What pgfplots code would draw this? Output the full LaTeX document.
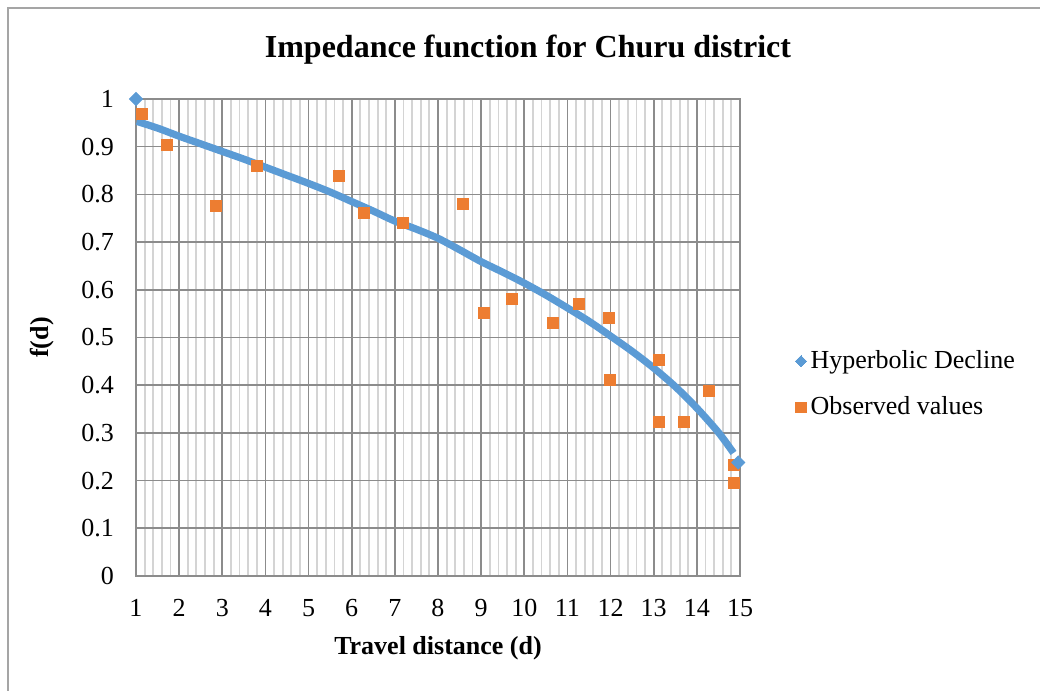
\documentclass[border=0pt]{standalone}
\usepackage{fontspec}
\setmainfont{Liberation Serif}
\usepackage{pgfplots}
\pgfplotsset{compat=1.18}
\definecolor{hblue}{RGB}{91,155,213}
\definecolor{horange}{RGB}{237,125,49}
\definecolor{majgrid}{RGB}{140,140,140}
\definecolor{mingrid}{RGB}{212,212,212}
\definecolor{framegray}{RGB}{165,165,165}
\begin{document}
\begin{tikzpicture}
\draw[framegray, line width=0.7pt] (4pt,-6pt) rectangle (526pt,341.5pt);
\node[font=\fontsize{16}{19}\selectfont\bfseries] at (264pt,320.5pt) {Impedance function for Churu district};
\begin{axis}[
  at={(68pt,57.5pt)}, anchor=south west, scale only axis,
  width=302pt, height=238.5pt,
  xmin=1, xmax=15, ymin=0, ymax=1,
  xtick={1,2,3,4,5,6,7,8,9,10,11,12,13,14,15},
  ytick={0,0.1,0.2,0.3,0.4,0.5,0.6,0.7,0.8,0.9,1},
  minor xtick={1.2,1.4,1.6,1.8,2.2,2.4,2.6,2.8,3.2,3.4,3.6,3.8,4.2,4.4,4.6,4.8,
    5.2,5.4,5.6,5.8,6.2,6.4,6.6,6.8,7.2,7.4,7.6,7.8,8.2,8.4,8.6,8.8,
    9.2,9.4,9.6,9.8,10.2,10.4,10.6,10.8,11.2,11.4,11.6,11.8,12.2,12.4,12.6,12.8,
    13.2,13.4,13.6,13.8,14.2,14.4,14.6,14.8},
  xmajorgrids=true, ymajorgrids=true, xminorgrids=true,
  major grid style={majgrid, line width=0.8pt},
  minor grid style={mingrid, line width=0.9pt},
  axis line style={majgrid, line width=0.8pt},
  tick style={draw=none},
  /pgf/number format/assume math mode=true,
  tick label style={font=\fontsize{13}{15}\selectfont},
  xticklabel style={yshift=-8pt},
  yticklabel style={xshift=-7.5pt},
  xlabel={Travel distance (d)},
  ylabel={f(d)},
  label style={font=\fontsize{13}{15}\selectfont\bfseries},
  xlabel style={at={(axis description cs:0.5,-0.151)}, anchor=center},
  ylabel style={at={(axis description cs:-0.155,0.5)}, anchor=center, rotate=0},
  legend style={draw=none, fill=none, inner sep=0pt, at={(rel axis cs:1.091,0.402)}, anchor=west,
    font=\fontsize{13}{15}\selectfont, row sep=8.5pt},
  legend cell align=left,
]
\addplot[hblue, line width=3.6pt, smooth,
  legend image code/.code={\fill[hblue] plot[mark=square*, mark size=2.0pt, mark options={rotate=45, draw=hblue, fill=hblue, line width=0pt}] coordinates {(3pt,0pt)};}]
  coordinates {
  (1.02,0.953) (1.5,0.939) (2,0.922) (2.5,0.906) (3,0.890) (3.5,0.874)
  (4,0.857) (4.5,0.840) (5,0.823) (5.5,0.805) (6,0.785) (6.5,0.765)
  (7,0.744) (7.5,0.727) (8,0.708) (8.5,0.684) (9,0.659) (9.5,0.637)
  (10,0.614) (10.5,0.589) (11,0.562) (11.5,0.534) (12,0.503) (12.5,0.471)
  (13,0.436) (13.5,0.397) (14,0.352) (14.5,0.301) (14.85,0.258)
  };
\addlegendentry{Hyperbolic Decline}
\addplot[only marks, mark=square*, mark size=2.75pt, color=horange, fill=horange,
  legend image code/.code={\fill[horange] plot[mark=square*, mark size=2.6pt, mark options={draw=horange, fill=horange, line width=0pt}] coordinates {(3pt,0pt)};}]
  coordinates {
  (1.14,0.968) (1.72,0.904) (2.85,0.775) (3.80,0.860) (5.71,0.839)
  (6.29,0.761) (7.18,0.741) (8.57,0.781) (9.07,0.551) (9.71,0.581)
  (10.67,0.531) (11.27,0.571) (11.96,0.542) (11.99,0.412) (13.13,0.453)
  (13.13,0.324) (13.70,0.324) (14.27,0.388) (14.85,0.233) (14.85,0.196)
  };
\addlegendentry{Observed values}
\addplot[only marks, mark=square*, mark size=2.3pt, mark options={rotate=45, fill=hblue, draw=hblue}, forget plot]
  coordinates {(1,1.0) (14.96,0.238)};
\end{axis}
\pgfresetboundingbox
\useasboundingbox (0,0) rectangle (520pt,345.5pt);
\end{tikzpicture}
\end{document}
